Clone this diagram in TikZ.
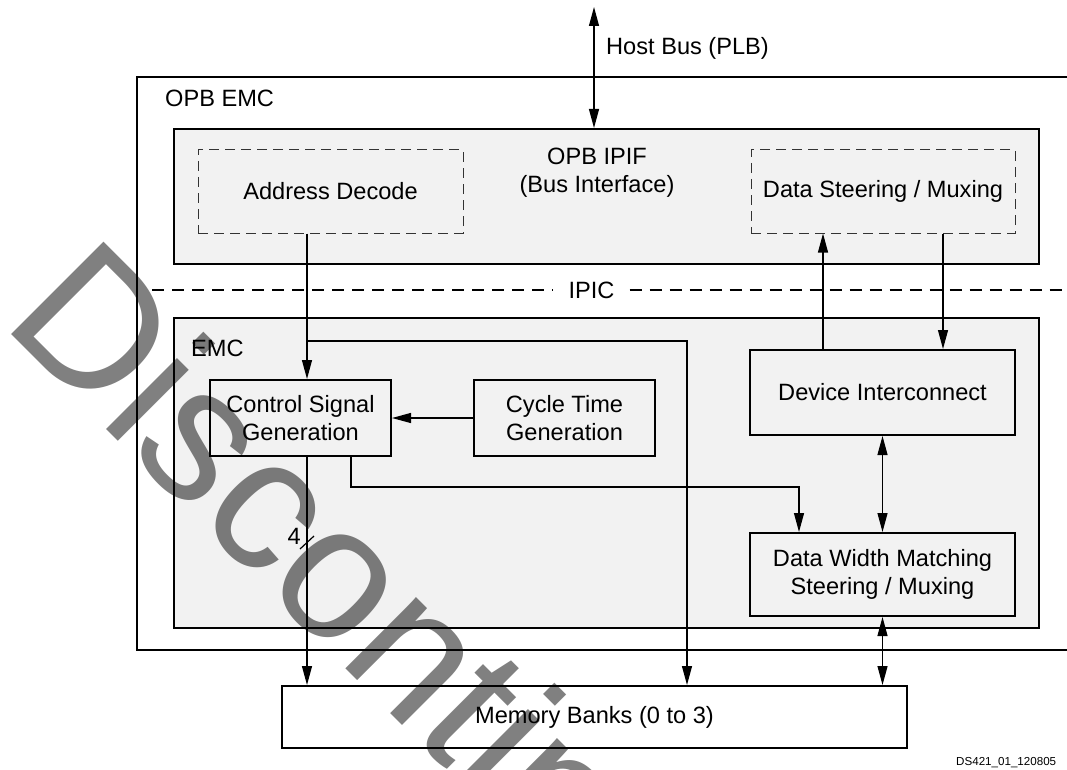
\documentclass[tikz,border=0pt]{standalone}
\usepackage{fontspec}
\setmainfont{Liberation Sans}
\usetikzlibrary{arrows.meta}
\definecolor{boxgray}{HTML}{F2F2F2}
\definecolor{dashgray}{HTML}{333333}
\definecolor{wmgray}{HTML}{808080}
\tikzset{
	blk/.style={draw=black, line width=2pt, fill=boxgray, inner sep=0pt, align=center},
	membox/.style={draw=black, line width=2pt, fill=white, inner sep=0pt, align=center},
	dashbox/.style={draw=dashgray, line width=1pt, dash pattern=on 10pt off 6pt, inner sep=0pt, align=center},
	lbl/.style={inner sep=0pt, align=center},
	sig/.style={line width=1.2pt, -{Triangle[length=19pt,width=10pt]}},
	dsig/.style={line width=1.2pt, {Triangle[length=19pt,width=10pt]}-{Triangle[length=19pt,width=10pt]}},
	wire/.style={line width=1.2pt},
	ipicline/.style={line width=2.2pt, dash pattern=on 12pt off 8pt},
	wmark/.style={text=wmgray, inner sep=0pt, font=\fontsize{190}{200}\selectfont}
}

\begin{document}
\begin{tikzpicture}[x=1pt, y=-1pt, font=\fontsize{23.6}{28}\selectfont]
	\useasboundingbox (0,0) rectangle (1067,770);
	%
	\node[membox, minimum width=943pt, minimum height=573pt] (opbemc) at (608.5,363.5) {};
	\node[lbl, anchor=west] (opbemclbl) at (165,98) {OPB EMC};
	%
	\node[blk, minimum width=865pt, minimum height=135pt] (ipif) at (606.5,196.5) {};
	\node[lbl] (ipiflbl) at (597,173) {OPB IPIF\\(Bus Interface)};
	\node[dashbox, minimum width=265pt, minimum height=83pt] (addrdec) at (330.5,191.5) {Address Decode};
	\node[dashbox, minimum width=264pt, minimum height=83pt] (datasteer) at (883,191.5) {Data Steering / Muxing};
	%
	\coordinate (hosttop) at (594,7);
	\draw[dsig] (hosttop) -- (hosttop |- ipif.north);
	\node[lbl, anchor=west] (hostlbl) at (606,48) {Host Bus (PLB)};
	%
	\node[lbl, inner xsep=15pt] (ipic) at (591.5,290) {IPIC};
	\coordinate (ipicl) at (152,290);
	\coordinate (ipicr) at (1070,290);
	\draw[ipicline] (ipicl) -- (ipic.west);
	\draw[ipicline] (ipic.east) -- (ipicr);
	%
	\node[blk, minimum width=865pt, minimum height=310pt] (emc) at (606.5,473) {};
	\node[lbl, anchor=west] (emclbl) at (191,348) {EMC};
	\node[blk, minimum width=181pt, minimum height=76pt] (ctrlsig) at (300.5,418) {Control Signal\\Generation};
	\node[blk, minimum width=181pt, minimum height=76pt] (cycletime) at (564.5,418) {Cycle Time\\Generation};
	\node[blk, minimum width=265pt, minimum height=85pt] (devint) at (882.5,392.5) {Device Interconnect};
	\node[blk, minimum width=265pt, minimum height=83pt] (dwmatch) at (882.5,574.5) {Data Width Matching\\Steering / Muxing};
	%
	\node[membox, minimum width=625pt, minimum height=62pt] (membank) at (594.5,717) {Memory Banks (0 to 3)};
	%
	\coordinate (adrx) at (307,0);
	\coordinate (tap) at (307,341);
	\coordinate (bankx) at (687,0);
	\draw[sig] (adrx |- addrdec.south) -- (adrx |- ctrlsig.north);
	\draw[sig] (tap) -| (bankx |- membank.north);
	\draw[sig] (cycletime.west) -- (ctrlsig.east);
	%
	\draw[sig] (adrx |- ctrlsig.south) -- (adrx |- membank.north);
	\coordinate (tick) at (307,542);
	\draw[wire] ([shift={(-7,7)}]tick) -- ([shift={(7,-6)}]tick);
	\node[lbl, anchor=east] (buswidth) at (301,536) {4};
	%
	\coordinate (ctlx) at (351,487);
	\coordinate (dwx) at (799,0);
	\draw[sig] (ctlx |- ctrlsig.south) -- (ctlx) -| (dwx |- dwmatch.north);
	%
	\coordinate (upx) at (823,0);
	\coordinate (dnx) at (943,0);
	\draw[sig] (upx |- devint.north) -- (upx |- datasteer.south);
	\draw[sig] (dnx |- datasteer.south) -- (dnx |- devint.north);
	\draw[dsig] (devint.south) -- (dwmatch.north);
	\draw[dsig] (dwmatch.south) -- (dwmatch.south |- membank.north);
	%
	\node[lbl, anchor=base west, font=\fontsize{11.6}{13}\selectfont] (docid) at (956,765) {DS421\_01\_120805};
	%
	\begin{scope}[blend mode=multiply]
		\node[wmark, anchor=base west, rotate=-45] (wm) at (0,323) {Discontinued};
	\end{scope}
\end{tikzpicture}
\end{document}
